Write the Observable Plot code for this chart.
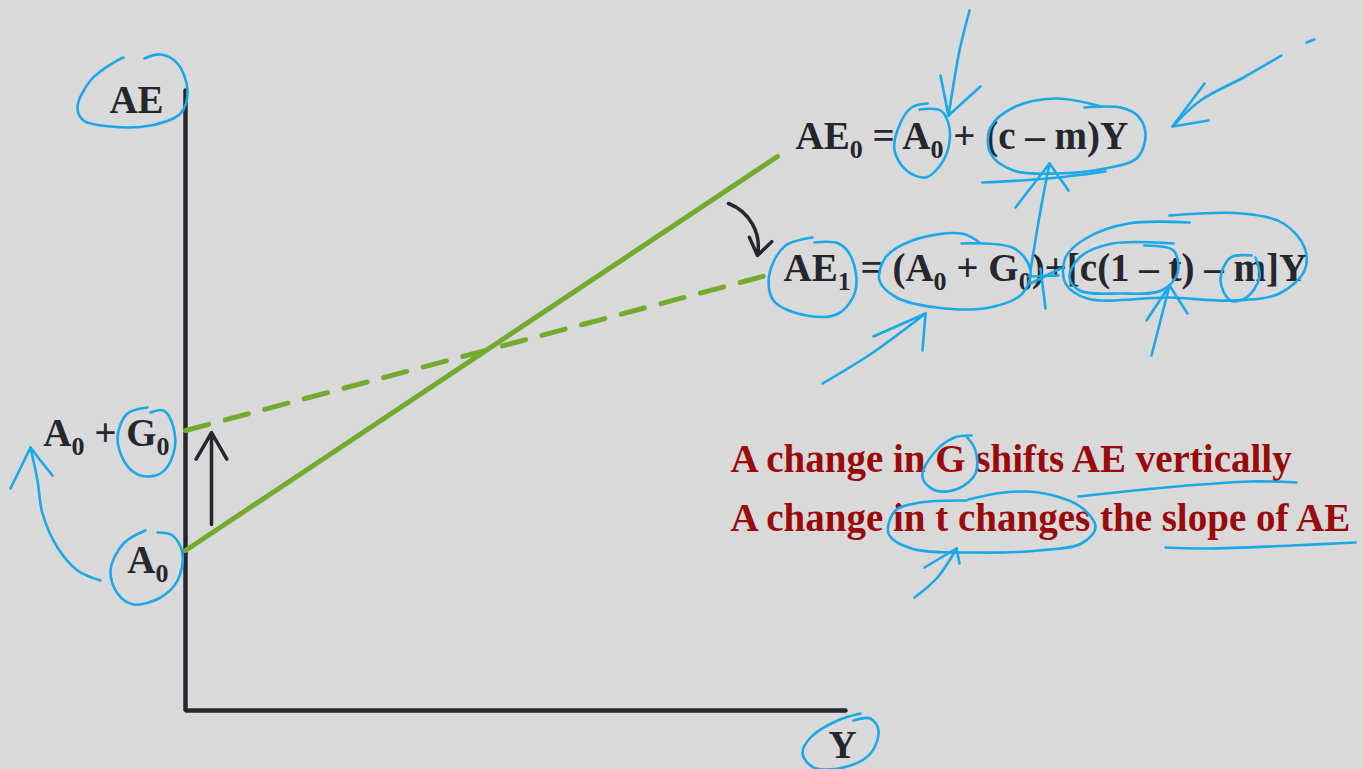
<!DOCTYPE html>
<html>
<head>
<meta charset="utf-8">
<script src="https://cdn.jsdelivr.net/npm/d3@7"></script>
<script src="https://cdn.jsdelivr.net/npm/@observablehq/plot@0.6"></script>
<style>
  html, body { margin: 0; padding: 0; background: #d9d9d9; overflow: hidden; }
</style>
</head>
<body>
<div id="chart"></div>
<script>
// Aggregate expenditure schedules (output Y on x, spending AE on y).
const axisFrame = [[0, 310], [0, 0], [330, 0]];
const ae0 = [[0, 80], [296, 277]];    // AE0 = A0 + (c - m)Y
const ae1 = [[0, 140], [296, 219]];   // AE1 = (A0 + G0) + [c(1 - t) - m]Y
const shift = {x: 13, from: 93, to: 139};          // vertical shift from G
const pivot = {x1: 271.5, y1: 253.5, x2: 286, y2: 227.5}; // rotation from t

const axisLabels = ["AE", "Y"];
const interceptLabels = ["A_0", "A_0 + G_0"];
const scheduleLabels = ["AE_0 = A_0 + (c – m)Y", "AE_1 = (A_0 + G_0)+[c(1 – t) – m]Y"];
const notes = ["A change in G shifts AE vertically", "A change in t changes the slope of AE"];

// Hand-drawn pen marks: smooth strokes (loops, shafts, underlines) ...
const inkStrokes = [
  [[-31,326.5],[-35,324.5],[-47.5,315],[-54,301.5],[-51,295],[-37.5,292],[-17.5,292.5],[-2.5,298.5],[1,310],[-4,323.5],[-12.5,328],[-20.5,326]],
  [[-19,151.5],[-29,148.5],[-34,136.5],[-30,123.5],[-22.5,117.5],[-12.5,118.5],[-6,128.5],[-6,141.5],[-11,150],[-17.5,149]],
  [[-20,90],[-31,83.5],[-37.5,70],[-34,58.5],[-26,53],[-12.5,56.5],[-4,65],[-1.5,78.5],[-6.5,87.5],[-14,89]],
  [[-42.5,65],[-54,70],[-64,81.5],[-71.5,98.5],[-74,115],[-77.5,131.5]],
  [[337.5,-1.5],[326,-5],[312.5,-13.5],[308.5,-21.5],[314,-28.5],[329,-28.5],[342.5,-21.5],[346.5,-10],[342.5,-4],[334,-5]],
  [[371,303.5],[363,301.5],[356.5,291.5],[354.5,280],[360.5,270],[370,266.5],[376.5,271.5],[381.5,281.5],[381.5,293.5],[377.5,300],[367,300.5]],
  [[392,350],[387,330],[383.5,310],[381.5,297.5]],
  [[458,302],[435,306],[414,301.5],[402.5,291.5],[402.5,278.5],[414,270],[435,268.5],[460,271],[476,276.5],[480,288.5],[476,297.5],[467.5,301.5],[449.5,301.5]],
  [[398.5,264],[431,266],[460,269.5]],
  [[422.5,220],[427.5,250],[432,273.5]],
  [[548,327.5],[529,316.5],[507.5,305],[493.5,292]],
  [[560.5,334],[564.5,335.5]],
  [[313.5,236.5],[300,232.5],[292,218.5],[294,205],[310.5,197.5],[326.5,198.5],[335,210],[333,226.5],[326.5,233.5],[314.5,234]],
  [[397,234],[388,238.5],[363.5,235],[350,226.5],[347,215],[355.5,206.5],[375.5,201.5],[402,201.5],[418.5,208.5],[422.5,220],[414.5,231],[388,233.5]],
  [[318.5,163.5],[343,178.5],[370,198.5]],
  [[422.5,213.5],[437.5,221]],
  [[427.5,221],[430,201]],
  [[421.5,217],[436.5,217.5]],
  [[494,233.5],[463.5,233.5],[447,226.5],[442,216.5],[447,210],[467.5,208.5],[488,210],[496,218.5],[494,230],[479.5,232.5]],
  [[502,244],[471.5,243.5],[451,236.5],[440,226.5],[440,213.5],[451,206],[492,206.5],[522.5,205],[547,208.5],[559.5,220],[559.5,231.5],[549,243.5],[528.5,248.5],[492,247.5]],
  [[533,227.5],[522.5,226.5],[517.5,215],[522.5,205],[530.5,206.5],[537,216.5],[535,226.5]],
  [[483,177.5],[487.5,195],[492,212.5]],
  [[393,137.5],[384.5,136.5],[374,128.5],[368.5,116.5],[375,110],[386.5,111],[395,118.5],[395,130],[390.5,137]],
  [[446.5,107],[490,111.5],[532.5,114.5],[555.5,114]],
  [[390.5,105],[367.5,104],[355,100],[351.5,88.5],[363,81],[395,79],[426.5,80],[448,83.5],[455,91.5],[448,101.5],[426.5,109],[409.5,109],[391.5,105.5]],
  [[490,81.5],[511,81],[553.5,82.5],[585,84]],
  [[364.5,56.5],[376,66.5],[385.5,81]]
];
// ... and straight arrowhead strokes.
const inkHeads = [
  [[-87.5,111],[-77.5,131.5],[-72.5,125],[-66.5,117.5]],
  [[377.5,317.5],[381.5,297.5],[397.5,312]],
  [[415,251.5],[432,273.5],[441.5,260]],
  [[509.5,313.5],[493.5,292],[511.5,295]],
  [[344,187],[370,198.5],[368.5,180]],
  [[480.5,195],[492,212.5],[501,198.5]],
  [[369.5,71.5],[385.5,81],[387,73.5]]
];

const dark = "#26262e";
const green = "#74ab2e";
const red = "#9a0a0a";
const ink = "#1aa8e8";
const serif = "'Liberation Serif', 'Times New Roman', serif";

const flat = (strokes) => strokes.flatMap((pts, id) => pts.map(([x, y]) => ({x, y, id})));
const px = (d) => d[0];
const py = (d) => d[1];

const textStyle = {fontFamily: serif, fontWeight: "bold", fontSize: 39, lineAnchor: "bottom"};

const chart = Plot.plot({
  width: 1363,
  height: 769,
  marginLeft: 185,
  marginRight: 518,
  marginTop: 90,
  marginBottom: 59,
  x: {domain: [0, 330], axis: null},
  y: {domain: [0, 310], axis: null},
  style: {background: "#d9d9d9", overflow: "visible"},
  marks: [
    Plot.line(axisFrame, {x: px, y: py, stroke: dark, strokeWidth: 4.5, strokeLinejoin: "miter"}),
    Plot.line(ae0, {x: px, y: py, stroke: green, strokeWidth: 5}),
    Plot.line(ae1, {x: px, y: py, stroke: green, strokeWidth: 5, strokeDasharray: "24 17"}),
    Plot.arrow([shift], {x1: "x", x2: "x", y1: "from", y2: "to", stroke: dark, strokeWidth: 3.5, headLength: 20, headAngle: 60}),
    Plot.arrow([pivot], {x1: "x1", y1: "y1", x2: "x2", y2: "y2", stroke: dark, strokeWidth: 3.5, headLength: 15, headAngle: 70, bend: 40}),

    Plot.text([axisLabels[0]], {...textStyle, x: 0, y: axisFrame[0][1], dx: -49, dy: 22, textAnchor: "middle", fill: dark}),
    Plot.text([axisLabels[1]], {...textStyle, x: axisFrame[2][0], y: 0, dx: -3, dy: 47, textAnchor: "middle", fill: dark}),
    Plot.text([interceptLabels[0]], {...textStyle, x: 0, y: ae0[0][1], dx: -17, dy: 22, textAnchor: "end", fill: dark}),
    Plot.text([interceptLabels[1]], {...textStyle, x: 0, y: ae1[0][1], dx: -16, dy: 15, textAnchor: "end", fill: dark}),
    Plot.text([scheduleLabels[0]], {...textStyle, x: ae0[1][0], y: ae0[1][1], dx: 18, dy: -8, textAnchor: "start", fill: dark}),
    Plot.text([scheduleLabels[1]], {...textStyle, x: ae1[1][0], y: ae1[1][1], dx: 6, dy: 8, textAnchor: "start", fill: dark}),
    Plot.text(notes, {...textStyle, x: 272.5, y: [119.5, 90], textAnchor: "start", fill: red}),

    Plot.line(flat(inkStrokes), {x: "x", y: "y", z: "id", curve: "catmull-rom", stroke: ink, strokeWidth: 2.6, strokeLinecap: "round", strokeLinejoin: "round"}),
    Plot.line(flat(inkHeads), {x: "x", y: "y", z: "id", curve: "linear", stroke: ink, strokeWidth: 2.6, strokeLinecap: "round", strokeLinejoin: "round"})
  ]
});

// Turn "_0" style markers into lowered, smaller subscript digits.
const subSize = 26, subDrop = 9;
d3.select(chart).selectAll("text").each(function () {
  const s = this.textContent;
  if (!s.includes("_")) return;
  const t = d3.select(this).text(null);
  let lowered = false;
  s.split(/_(\d)/).forEach((part, i) => {
    if (i % 2) {
      t.append("tspan").attr("font-size", subSize).attr("dy", lowered ? 0 : subDrop).text(part);
      lowered = true;
    } else if (part) {
      const ts = t.append("tspan").text(part);
      if (lowered) ts.attr("dy", -subDrop);
      lowered = false;
    }
  });
});

document.getElementById("chart").append(chart);
</script>
</body>
</html>
